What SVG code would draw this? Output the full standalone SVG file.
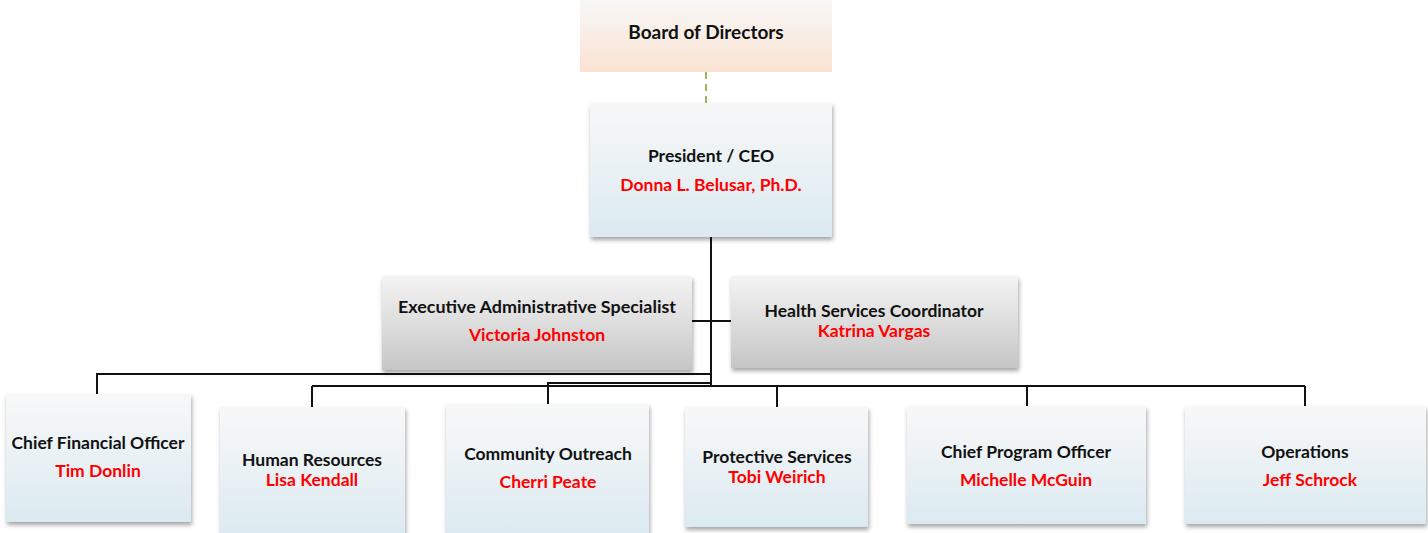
<svg xmlns="http://www.w3.org/2000/svg" width="1428" height="533" viewBox="0 0 1428 533">
<style>
.t{font-family:Lato,"Liberation Sans",sans-serif;font-weight:700;font-size:17.5px;fill:#111;text-anchor:middle}
.n{fill:#ff0000}
.box{filter:url(#sh)}
.blue{fill:url(#gBlue)}
.gray{fill:url(#gGray)}
.ln{stroke:#111;stroke-width:2;fill:none}
</style>
<defs>
<linearGradient id="gBlue" x1="0" y1="0" x2="0" y2="1"><stop offset="0" stop-color="#f8f8f8"/><stop offset="1" stop-color="#dbeaf1"/></linearGradient>
<linearGradient id="gGray" x1="0" y1="0" x2="0" y2="1"><stop offset="0" stop-color="#f4f4f4"/><stop offset="1" stop-color="#c6c6c6"/></linearGradient>
<linearGradient id="gPeach" x1="0" y1="0" x2="0" y2="1"><stop offset="0" stop-color="#f7f7f7"/><stop offset="1" stop-color="#fbe3d3"/></linearGradient>
<filter id="sh" x="-10%" y="-10%" width="120%" height="130%"><feDropShadow dx="1" dy="3" stdDeviation="2" flood-color="#000" flood-opacity="0.35"/></filter>
</defs>
<g id="connectors">
<line x1="706" y1="72" x2="706" y2="131" stroke="#9bbb59" stroke-width="2" stroke-dasharray="7,5"/>
<line class="ln" x1="711" y1="237" x2="711" y2="387" stroke-width="3"/>
<line class="ln" x1="692" y1="321" x2="731" y2="321"/>
<polyline class="ln" points="711,374 97,374 97,394"/>
<polyline class="ln" points="711,383 548,383 548,404"/>
<line class="ln" x1="312" y1="386" x2="1305" y2="386"/>
<line class="ln" x1="312" y1="386" x2="312" y2="407"/>
<line class="ln" x1="777" y1="386" x2="777" y2="407"/>
<line class="ln" x1="1027" y1="386" x2="1027" y2="406"/>
<line class="ln" x1="1305" y1="386" x2="1305" y2="406"/>
</g>
<g id="board">
<rect x="580" y="0" width="252" height="72" fill="url(#gPeach)"/>
<text class="t" x="706" y="39" style="font-size:19px">Board of Directors</text>
</g>
<g id="ceo">
<rect class="box blue" x="590" y="103" width="242" height="134"/>
<text class="t" x="711" y="162">President / CEO</text>
<text class="t n" x="711" y="191">Donna L. Belusar, Ph.D.</text>
</g>
<g id="exec">
<rect class="box gray" x="382" y="276" width="310" height="94"/>
<text class="t" x="537" y="313" textLength="278" lengthAdjust="spacingAndGlyphs">Executive Administrative Specialist</text>
<text class="t n" x="537" y="341">Victoria Johnston</text>
</g>
<g id="health">
<rect class="box gray" x="731" y="276" width="287" height="92"/>
<text class="t" x="874" y="317">Health Services Coordinator</text>
<text class="t n" x="874" y="337">Katrina Vargas</text>
</g>
<g id="cfo">
<rect class="box blue" x="6" y="394" width="185" height="128"/>
<text class="t" x="98" y="449">Chief Financial Officer</text>
<text class="t n" x="98" y="477">Tim Donlin</text>
</g>
<g id="hr">
<rect class="box blue" x="220" y="407" width="185" height="130"/>
<text class="t" x="312" y="466">Human Resources</text>
<text class="t n" x="312" y="486">Lisa Kendall</text>
</g>
<g id="outreach">
<rect class="box blue" x="446" y="404" width="203" height="133"/>
<text class="t" x="548" y="460">Community Outreach</text>
<text class="t n" x="548" y="488">Cherri Peate</text>
</g>
<g id="protective">
<rect class="box blue" x="685" y="407" width="183" height="120"/>
<text class="t" x="777" y="463">Protective  Services</text>
<text class="t n" x="777" y="483">Tobi Weirich</text>
</g>
<g id="cpo">
<rect class="box blue" x="907" y="406" width="239" height="118"/>
<text class="t" x="1026" y="458">Chief Program Officer</text>
<text class="t n" x="1026" y="486">Michelle McGuin</text>
</g>
<g id="operations">
<rect class="box blue" x="1185" y="406" width="241" height="118"/>
<text class="t" x="1305" y="458">Operations</text>
<text class="t n" x="1310" y="486">Jeff Schrock</text>
</g>
</svg>
